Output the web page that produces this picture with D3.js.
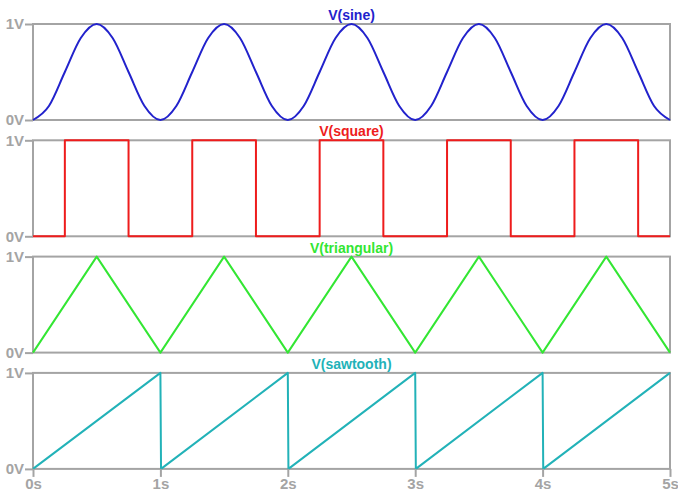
<!DOCTYPE html>
<html>
<head>
<meta charset="utf-8">
<script src="https://cdn.jsdelivr.net/npm/d3@7"></script>
<style>
body { margin: 0; background: #fff; }
text { font-family: Arial, "Liberation Sans", sans-serif; }
</style>
</head>
<body>
<svg id="chart" width="678" height="493"></svg>
<script>
// time ticks (s) and voltage ticks (V)
var timeTicks = [0, 1, 2, 3, 4, 5];
var voltTicks = [0, 1];

// V(sine): sampled every 1/8 s
var sineT = [0, 0.125, 0.25, 0.375, 0.5, 0.625, 0.75, 0.875,
	1, 1.125, 1.25, 1.375, 1.5, 1.625, 1.75, 1.875,
	2, 2.125, 2.25, 2.375, 2.5, 2.625, 2.75, 2.875,
	3, 3.125, 3.25, 3.375, 3.5, 3.625, 3.75, 3.875,
	4, 4.125, 4.25, 4.375, 4.5, 4.625, 4.75, 4.875, 5];
var sineV = [0, 0.146, 0.5, 0.854, 1, 0.854, 0.5, 0.146,
	0, 0.146, 0.5, 0.854, 1, 0.854, 0.5, 0.146,
	0, 0.146, 0.5, 0.854, 1, 0.854, 0.5, 0.146,
	0, 0.146, 0.5, 0.854, 1, 0.854, 0.5, 0.146,
	0, 0.146, 0.5, 0.854, 1, 0.854, 0.5, 0.146, 0];

// V(square)
var squareT = [0, 0.25, 0.25, 0.75, 0.75, 1.25, 1.25, 1.75, 1.75, 2.25, 2.25, 2.75, 2.75,
	3.25, 3.25, 3.75, 3.75, 4.25, 4.25, 4.75, 4.75, 5];
var squareV = [0, 0, 1, 1, 0, 0, 1, 1, 0, 0, 1, 1, 0, 0, 1, 1, 0, 0, 1, 1, 0, 0];

// V(triangular)
var triT = [0, 0.5, 1, 1.5, 2, 2.5, 3, 3.5, 4, 4.5, 5];
var triV = [0, 1, 0, 1, 0, 1, 0, 1, 0, 1, 0];

// V(sawtooth)
var sawT = [0, 1, 1.005, 2, 2.005, 3, 3.005, 4, 4.005, 5];
var sawV = [0, 1, 0, 1, 0, 1, 0, 1, 0, 1];

var panels = [
	{name: 'V(sine)', t: sineT, v: sineV, color: '#2222cc', curve: d3.curveMonotoneX},
	{name: 'V(square)', t: squareT, v: squareV, color: '#ee1c1c', curve: d3.curveLinear},
	{name: 'V(triangular)', t: triT, v: triV, color: '#33e633', curve: d3.curveLinear},
	{name: 'V(sawtooth)', t: sawT, v: sawV, color: '#22b2b8', curve: d3.curveLinear}
];

var svg = d3.select('#chart');
var left = 33, right = 670;
var panelTop = 24, panelH = 96, panelStep = 116.3;
var gray = '#a4a4a4';

var x = d3.scaleLinear().domain([0, 5]).range([left, right]);

panels.forEach(function(p, i) {
	var top = panelTop + i * panelStep;
	var y = d3.scaleLinear().domain([0, 1]).range([top + panelH, top]);
	var g = svg.append('g');

	// frame
	g.append('rect')
		.attr('x', left)
		.attr('y', top)
		.attr('width', right - left)
		.attr('height', panelH)
		.attr('fill', 'none')
		.attr('stroke', gray)
		.attr('stroke-width', 2);

	// y axis
	var yAxis = d3.axisLeft(y)
		.tickValues(voltTicks)
		.tickFormat(d => d + 'V')
		.tickSize(8)
		.tickPadding(1);
	var ya = g.append('g')
		.attr('transform', 'translate(' + left + ',0)')
		.call(yAxis);
	ya.select('.domain').remove();
	ya.selectAll('line').attr('stroke', gray).attr('stroke-width', 2);
	ya.selectAll('text')
		.attr('fill', gray)
		.attr('font-size', 15)
		.attr('font-weight', 'bold')
		.attr('font-family', 'Arial, "Liberation Sans", sans-serif');

	// signal
	var line = d3.line()
		.x((d, k) => x(p.t[k]))
		.y(d => y(d))
		.curve(p.curve);
	g.append('path')
		.attr('d', line(p.v))
		.attr('fill', 'none')
		.attr('stroke', p.color)
		.attr('stroke-width', 2)
		.attr('stroke-linejoin', 'round');

	// title
	g.append('text')
		.text(p.name)
		.attr('x', (left + right) / 2)
		.attr('y', top - 4)
		.attr('text-anchor', 'middle')
		.attr('fill', p.color)
		.attr('font-size', 14)
		.attr('font-weight', 'bold');

	if (i == panels.length - 1) {
		var xAxis = d3.axisBottom(x)
			.tickValues(timeTicks)
			.tickFormat(d => d + 's')
			.tickSize(8)
			.tickPadding(1);
		var xa = g.append('g')
			.attr('transform', 'translate(0,' + (top + panelH) + ')')
			.call(xAxis);
		xa.select('.domain').remove();
		xa.selectAll('line').attr('stroke', gray).attr('stroke-width', 2);
		xa.selectAll('text')
			.attr('fill', gray)
			.attr('font-size', 15)
			.attr('font-weight', 'bold')
			.attr('font-family', 'Arial, "Liberation Sans", sans-serif');
	}
});
</script>
</body>
</html>
